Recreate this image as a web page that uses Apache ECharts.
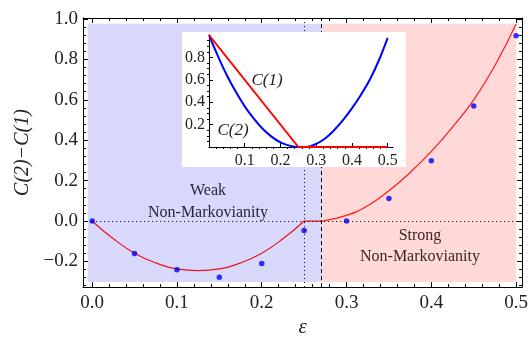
<!DOCTYPE html>
<html>
<head>
<meta charset="utf-8">
<script src="https://cdn.jsdelivr.net/npm/echarts@6/dist/echarts.min.js"></script>
<style>
  html, body { margin: 0; padding: 0; background: #fff; }
  #chart { width: 531px; height: 343px; }
</style>
</head>
<body>
<div id="chart"></div>
<script>
// ---- data ----
// red curve C(2)-C(1), three pieces
const weakEps = [0, 0.025, 0.05, 0.075, 0.1, 0.125, 0.15, 0.175, 0.2, 0.225, 0.25];
const weakDiff = [0, -0.088, -0.159, -0.207, -0.237, -0.245, -0.237, -0.207, -0.159, -0.088, 0];
const flatEps = [0.25, 0.2713];
const flatDiff = [0, 0];
const strongEps = [0.2713, 0.3, 0.325, 0.35, 0.375, 0.4, 0.425, 0.45, 0.475, 0.5];
const strongDiff = [0, 0.028, 0.076, 0.15, 0.24, 0.345, 0.465, 0.6, 0.77, 0.975];

// blue points
const pointEps = [0, 0.05, 0.1, 0.15, 0.2, 0.25, 0.3, 0.35, 0.4, 0.45, 0.5];
const pointVal = [0, -0.161, -0.241, -0.278, -0.21, -0.047, 0, 0.111, 0.299, 0.569, 0.917];

// inset curves
const c1Eps = [0, 0.25, 0.5];
const c1Val = [1, 0, 0];
const c2Eps = [0, 0.025, 0.05, 0.075, 0.1, 0.125, 0.15, 0.175, 0.2, 0.225, 0.25, 0.2713,
               0.3, 0.325, 0.35, 0.375, 0.4, 0.425, 0.45, 0.475, 0.5];
const c2Val = [1, 0.812, 0.641, 0.493, 0.363, 0.255, 0.163, 0.093, 0.041, 0.012, 0, 0,
               0.028, 0.076, 0.15, 0.24, 0.345, 0.465, 0.6, 0.77, 0.975];

// regions / reference lines
const weakEdge = 0.25;
const strongEdge = 0.2713;

// ticks
const xMajor = [0, 0.1, 0.2, 0.3, 0.4, 0.5];
const xMinor = [0.02, 0.04, 0.06, 0.08, 0.12, 0.14, 0.16, 0.18, 0.22, 0.24, 0.26, 0.28,
                0.32, 0.34, 0.36, 0.38, 0.42, 0.44, 0.46, 0.48];
const yMajor = [-0.2, 0, 0.2, 0.4, 0.6, 0.8, 1.0];
const yMinor = [-0.32, -0.28, -0.24, -0.16, -0.12, -0.08, -0.04, 0.04, 0.08, 0.12, 0.16,
                0.24, 0.28, 0.32, 0.36, 0.44, 0.48, 0.52, 0.56, 0.64, 0.68, 0.72, 0.76,
                0.84, 0.88, 0.92, 0.96];
const insetXMajor = [0.1, 0.2, 0.3, 0.4, 0.5];
const insetXMinor = [0.02, 0.04, 0.06, 0.08, 0.12, 0.14, 0.16, 0.18, 0.22, 0.24, 0.26, 0.28,
                     0.32, 0.34, 0.36, 0.38, 0.42, 0.44, 0.46, 0.48];
const insetYMajor = [0.2, 0.4, 0.6, 0.8];
const insetYMinor = [0.05, 0.1, 0.15, 0.25, 0.3, 0.35, 0.45, 0.5, 0.55, 0.65, 0.7, 0.75, 0.85, 0.9, 0.95];

const pairs = (xs, ys) => xs.map((x, i) => [x, ys[i]]);
const fmt = v => (v < 0 ? '\u2212' : '') + Math.abs(v).toFixed(1);
const serif = 'Liberation Serif';

const chart = echarts.init(document.getElementById('chart'));

// main frame axes: major + minor on every side
const X_MIN = -0.0108, X_MAX = 0.507, Y_MIN = -0.327, Y_MAX = 1.005;
const frameX = (pos, major, showLabel) => ({
  type: 'value', gridIndex: 0, position: pos, min: X_MIN, max: X_MAX,
  axisLine: { show: major, onZero: false, lineStyle: { color: '#000', width: 1 } },
  axisTick: { show: true, inside: true, length: major ? 5 : 3,
              customValues: major ? xMajor : xMinor, lineStyle: { color: '#000' } },
  axisLabel: { show: showLabel, customValues: xMajor, formatter: fmt, margin: 6,
               fontFamily: serif, fontSize: 19, color: '#222' },
  splitLine: { show: false },
  name: showLabel ? 'ε' : '', nameLocation: 'middle', nameGap: 27,
  nameTextStyle: { fontFamily: serif, fontStyle: 'italic', fontSize: 21, color: '#222' }
});
const frameY = (pos, major, showLabel) => ({
  type: 'value', gridIndex: 0, position: pos, min: Y_MIN, max: Y_MAX,
  axisLine: { show: major, onZero: false, lineStyle: { color: '#000', width: 1 } },
  axisTick: { show: true, inside: true, length: major ? 5 : 3,
              customValues: major ? yMajor : yMinor, lineStyle: { color: '#000' } },
  axisLabel: { show: showLabel, customValues: yMajor, formatter: fmt, margin: 5,
               fontFamily: serif, fontSize: 19, color: '#222' },
  splitLine: { show: false },
  name: showLabel ? 'C(2)\u2212C(1)' : '', nameLocation: 'middle', nameGap: 44,
  nameTextStyle: { fontFamily: serif, fontStyle: 'italic', fontSize: 20, color: '#222' }
});

const insetAxisStyle = { color: '#000', width: 1 };

const option = {
  animation: false,
  grid: [
    { left: 83, right: 8, top: 18, bottom: 52 },
    { left: 209, right: 138, top: 35, bottom: 196, z: 11 }
  ],
  xAxis: [
    frameX('bottom', true, true),
    frameX('bottom', false, false),
    frameX('top', true, false),
    frameX('top', false, false),
    {
      type: 'value', gridIndex: 1, min: 0, max: 0.515, z: 11,
      axisLine: { onZero: false, lineStyle: insetAxisStyle },
      axisTick: { inside: true, length: 4, customValues: insetXMajor, lineStyle: insetAxisStyle },
      axisLabel: { customValues: insetXMajor, formatter: v => v.toFixed(1), margin: 6,
                   fontFamily: serif, fontSize: 16, color: '#222' },
      splitLine: { show: false }
    },
    {
      type: 'value', gridIndex: 1, min: 0, max: 0.515, z: 11,
      axisLine: { show: false },
      axisTick: { inside: true, length: 2, customValues: insetXMinor, lineStyle: insetAxisStyle },
      axisLabel: { show: false }, splitLine: { show: false }
    }
  ],
  yAxis: [
    frameY('left', true, true),
    frameY('left', false, false),
    frameY('right', true, false),
    frameY('right', false, false),
    {
      type: 'value', gridIndex: 1, min: 0, max: 1.0, z: 11,
      axisLine: { onZero: false, lineStyle: insetAxisStyle },
      axisTick: { inside: true, length: 4, customValues: insetYMajor, lineStyle: insetAxisStyle },
      axisLabel: { customValues: insetYMajor, formatter: v => v.toFixed(1), margin: 4,
                   fontFamily: serif, fontSize: 16, color: '#222' },
      splitLine: { show: false }
    },
    {
      type: 'value', gridIndex: 1, min: 0, max: 1.0, z: 11,
      axisLine: { show: false },
      axisTick: { inside: true, length: 2, customValues: insetYMinor, lineStyle: insetAxisStyle },
      axisLabel: { show: false }, splitLine: { show: false }
    }
  ],
  graphic: [
    // inset background
    { type: 'rect', z: 10, shape: { x: 182, y: 32, width: 224, height: 135 }, style: { fill: '#fff' } },
    { type: 'text', z: 20, x: 267, y: 81, style: { text: 'C(1)', font: 'italic 17px "Liberation Serif"',
      fill: '#222', align: 'center', verticalAlign: 'middle' } },
    { type: 'text', z: 20, x: 233, y: 131, style: { text: 'C(2)', font: 'italic 17px "Liberation Serif"',
      fill: '#222', align: 'center', verticalAlign: 'middle' } },
    // region labels
    { type: 'text', z: 5, x: 208, y: 191, style: { text: 'Weak', font: '16px "Liberation Serif"',
      fill: '#26263c', align: 'center', verticalAlign: 'middle' } },
    { type: 'text', z: 5, x: 208, y: 213, style: { text: 'Non-Markovianity', font: '16px "Liberation Serif"',
      fill: '#26263c', align: 'center', verticalAlign: 'middle' } },
    { type: 'text', z: 5, x: 420, y: 236, style: { text: 'Strong', font: '16px "Liberation Serif"',
      fill: '#3c2626', align: 'center', verticalAlign: 'middle' } },
    { type: 'text', z: 5, x: 420, y: 257, style: { text: 'Non-Markovianity', font: '16px "Liberation Serif"',
      fill: '#3c2626', align: 'center', verticalAlign: 'middle' } }
  ],
  series: [
    {
      // weak region of the fitted curve, also carries shading and reference lines
      type: 'line', xAxisIndex: 0, yAxisIndex: 0, z: 3,
      data: pairs(weakEps, weakDiff), smooth: 0.5, showSymbol: false,
      lineStyle: { color: '#ee1020', width: 1.2 },
      markArea: {
        silent: true,
        data: [
          [{ coord: [-0.005, -0.302], itemStyle: { color: '#d8d8fb' } }, { coord: [strongEdge, 0.977] }],
          [{ coord: [strongEdge, -0.302], itemStyle: { color: '#ffd8d8' } }, { coord: [0.5, 0.977] }]
        ]
      },
      markLine: {
        silent: true, symbol: 'none', label: { show: false },
        data: [
          [{ coord: [0, 0] }, { coord: [X_MAX, 0] }],
          { xAxis: weakEdge },
          { xAxis: strongEdge, lineStyle: { type: [4, 3] } }
        ],
        lineStyle: { color: '#000', width: 1, type: [1, 3] }
      }
    },
    {
      type: 'line', xAxisIndex: 0, yAxisIndex: 0, z: 3,
      data: pairs(flatEps, flatDiff), showSymbol: false,
      lineStyle: { color: '#ee1020', width: 1.2 }
    },
    {
      type: 'line', xAxisIndex: 0, yAxisIndex: 0, z: 3,
      data: pairs(strongEps, strongDiff), smooth: 0.5, showSymbol: false,
      lineStyle: { color: '#ff1a1a', width: 1.2 }
    },
    {
      type: 'scatter', xAxisIndex: 0, yAxisIndex: 0, z: 4,
      data: pairs(pointEps, pointVal), symbolSize: 5.5,
      itemStyle: { color: '#0000ff' }
    },
    {
      type: 'line', xAxisIndex: 4, yAxisIndex: 4, z: 12,
      data: pairs(c2Eps, c2Val), smooth: 0.4, showSymbol: false,
      lineStyle: { color: '#0000ff', width: 2 }
    },
    {
      type: 'line', xAxisIndex: 4, yAxisIndex: 4, z: 13,
      data: pairs(c1Eps, c1Val), showSymbol: false,
      lineStyle: { color: '#ff0000', width: 2 }
    }
  ]
};

chart.setOption(option);
</script>
</body>
</html>
